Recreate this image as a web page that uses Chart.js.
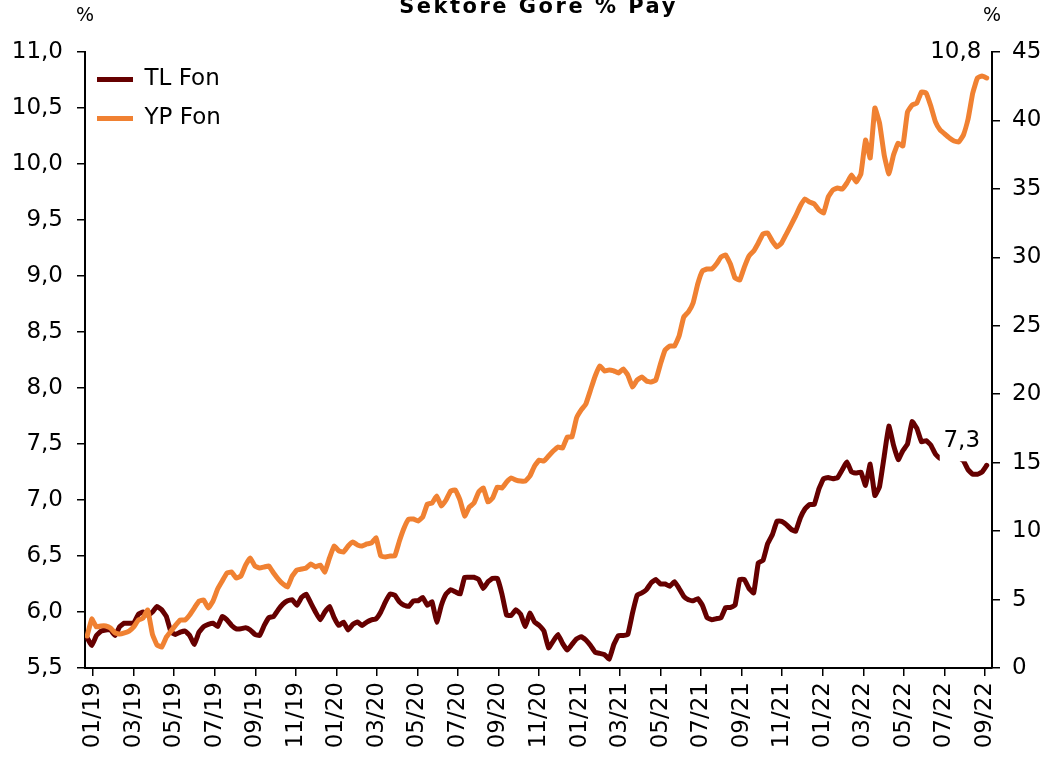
<!DOCTYPE html>
<html>
<head>
<meta charset="utf-8">
<script src="https://cdn.jsdelivr.net/npm/chart.js@4.4.1/dist/chart.umd.min.js"></script>
<style>
  html, body { margin: 0; padding: 0; background: #fff; }
</style>
</head>
<body>
<canvas id="myChart" width="1048" height="762"></canvas>
<script>
// Sektore gore % pay - TL / YP fon, weekly
const firstWeek = "2018-12-23";

const tlFon = [
  5.77, 5.70, 5.79, 5.83, 5.84, 5.84, 5.79, 5.87, 5.90, 5.90,
  5.90, 5.98, 6.00, 5.97, 6.00, 6.05, 6.02, 5.96, 5.82, 5.80,
  5.82, 5.83, 5.79, 5.71, 5.82, 5.87, 5.89, 5.90, 5.87, 5.96,
  5.93, 5.88, 5.85, 5.85, 5.86, 5.84, 5.80, 5.79, 5.88, 5.95,
  5.96, 6.02, 6.07, 6.10, 6.11, 6.06, 6.13, 6.16, 6.08, 6.00,
  5.93, 6.00, 6.05, 5.95, 5.88, 5.91, 5.84, 5.89, 5.91, 5.88,
  5.91, 5.93, 5.94, 6.00, 6.09, 6.16, 6.15, 6.09, 6.06, 6.05,
  6.10, 6.10, 6.13, 6.06, 6.09, 5.91, 6.06, 6.16, 6.20, 6.18,
  6.16, 6.31, 6.31, 6.31, 6.29, 6.21, 6.27, 6.30, 6.30, 6.16,
  5.97, 5.97, 6.02, 5.98, 5.87, 5.99, 5.91, 5.88, 5.83, 5.68,
  5.74, 5.80, 5.72, 5.66, 5.71, 5.76, 5.78, 5.75, 5.70, 5.64,
  5.63, 5.62, 5.58, 5.71, 5.79, 5.79, 5.80, 5.99, 6.15, 6.17,
  6.20, 6.26, 6.29, 6.25, 6.25, 6.23, 6.27, 6.21, 6.14, 6.11,
  6.10, 6.12, 6.06, 5.95, 5.93, 5.94, 5.95, 6.04, 6.04, 6.06,
  6.29, 6.29, 6.21, 6.17, 6.44, 6.46, 6.61, 6.69, 6.81, 6.81,
  6.78, 6.74, 6.72, 6.84, 6.92, 6.96, 6.96, 7.10, 7.19, 7.20,
  7.19, 7.20, 7.27, 7.34, 7.25, 7.24, 7.25, 7.13, 7.32, 7.04,
  7.12, 7.39, 7.66, 7.49, 7.36, 7.44, 7.50, 7.70, 7.64, 7.52,
  7.53, 7.49, 7.41, 7.37, 7.40, 7.43, 7.41, 7.38, 7.35, 7.27,
  7.23, 7.23, 7.25, 7.31
];

const ypFon = [
  2.34, 3.58, 3.00, 3.07, 3.07, 2.92, 2.56, 2.48, 2.56, 2.70,
  3.00, 3.51, 3.65, 4.24, 2.48, 1.68, 1.53, 2.26, 2.70, 3.14,
  3.51, 3.51, 3.87, 4.38, 4.89, 4.97, 4.38, 4.89, 5.77, 6.36,
  6.94, 7.01, 6.57, 6.72, 7.52, 8.04, 7.45, 7.31, 7.38, 7.45,
  6.94, 6.50, 6.14, 5.92, 6.72, 7.16, 7.23, 7.31, 7.60, 7.38,
  7.52, 7.01, 8.04, 8.91, 8.55, 8.47, 8.91, 9.20, 8.99, 8.91,
  9.06, 9.13, 9.50, 8.18, 8.11, 8.18, 8.18, 9.28, 10.23, 10.88,
  10.88, 10.74, 11.03, 11.98, 12.05, 12.56, 11.83, 12.27, 12.93, 13.00,
  12.27, 11.10, 11.76, 12.05, 12.86, 13.15, 12.13, 12.42, 13.22, 13.15,
  13.59, 13.88, 13.73, 13.66, 13.66, 14.03, 14.76, 15.19, 15.12, 15.49,
  15.85, 16.14, 16.07, 16.87, 16.87, 18.26, 18.85, 19.29, 20.31, 21.33,
  22.06, 21.70, 21.77, 21.70, 21.55, 21.84, 21.40, 20.53, 21.04, 21.26,
  20.97, 20.89, 21.04, 22.21, 23.23, 23.52, 23.52, 24.25, 25.64, 26.01,
  26.66, 28.05, 29.00, 29.15, 29.15, 29.51, 30.02, 30.17, 29.51, 28.49,
  28.34, 29.29, 30.10, 30.46, 31.05, 31.70, 31.78, 31.19, 30.75, 31.05,
  31.70, 32.36, 33.02, 33.75, 34.26, 34.04, 33.90, 33.46, 33.24, 34.41,
  34.92, 35.06, 34.99, 35.43, 36.01, 35.50, 36.09, 38.57, 37.26, 40.91,
  39.81, 37.48, 36.09, 37.48, 38.35, 38.13, 40.62, 41.13, 41.27, 42.08,
  42.00, 41.05, 39.89, 39.30, 39.01, 38.72, 38.50, 38.43, 38.94, 40.11,
  42.00, 43.10, 43.25, 43.10
];

const tickLabels = [
  "01/19", "03/19", "05/19", "07/19", "09/19", "11/19",
  "01/20", "03/20", "05/20", "07/20", "09/20", "11/20",
  "01/21", "03/21", "05/21", "07/21", "09/21", "11/21",
  "01/22", "03/22", "05/22", "07/22", "09/22"
];

const endLabels = { tl: "7,3", yp: "10,8" };
const chartTitle = "Sektöre Göre % Pay";

const colors = ["#660000", "#F08132"];

// x = months since 01/2019
const DAY = 86400000;
const startMs = Date.parse(firstWeek + "T00:00:00Z");
const baseMs = Date.UTC(2019, 0, 1);
function monthOf(i) {
  return (startMs + i * 7 * DAY - baseMs) / DAY / 30.4375;
}

Chart.defaults.font.family = "'DejaVu Sans', sans-serif";
Chart.defaults.font.size = 23;
Chart.defaults.color = "#000";

const extras = {
  id: "extras",
  afterLayout(chart) {
    // legend inside the plot, top-left corner
    const lg = chart.legend;
    const h = lg.bottom - lg.top;
    lg.top = chart.chartArea.top;
    lg.bottom = lg.top + h;
    lg.left = chart.chartArea.left - 4;
  },
  afterDatasetsDraw(chart) {
    const { ctx, chartArea, scales } = chart;
    ctx.save();
    ctx.fillStyle = "#000";

    // title (cut at the top like the source)
    ctx.font = "bold 21px 'DejaVu Sans'";
    ctx.letterSpacing = "2.5px";
    ctx.textAlign = "center";
    ctx.textBaseline = "alphabetic";
    ctx.fillText(chartTitle, (chartArea.left + chartArea.right) / 2, 13);
    ctx.letterSpacing = "0px";

    // % over both axes
    ctx.font = "19px 'DejaVu Sans'";
    ctx.textBaseline = "middle";
    ctx.fillText("%", chartArea.left, 16);
    ctx.fillText("%", chartArea.right, 16);

    // end labels
    const last = tlFon.length - 1;
    const xl = scales.x.getPixelForValue(monthOf(last));
    const yTl = scales.y.getPixelForValue(tlFon[last]);
    const yYp = scales.y1.getPixelForValue(ypFon[last]);
    ctx.font = "23px 'DejaVu Sans'";

    const cx = xl - 25, cy = yTl - 24;
    ctx.fillStyle = "#fff";
    ctx.fillRect(cx - 22, cy - 14, 44, 34);
    ctx.fillStyle = "#000";
    ctx.fillText(endLabels.tl, cx, cy);

    ctx.fillText(endLabels.yp, xl - 31, yYp - 26);
    ctx.restore();
  }
};

const area = document.querySelector("#myChart");

const myChart = new Chart(area, {
  type: "line",
  data: {
    datasets: [
      {
        label: "TL Fon",
        data: tlFon.map((v, i) => ({ x: monthOf(i), y: v })),
        yAxisID: "y",
        borderColor: colors[0],
        backgroundColor: colors[0],
        borderWidth: 5,
        borderJoinStyle: "round",
        borderCapStyle: "round",
        pointRadius: 0,
        tension: 0.1,
        order: 1,
      },
      {
        label: "YP Fon",
        data: ypFon.map((v, i) => ({ x: monthOf(i), y: v })),
        yAxisID: "y1",
        borderColor: colors[1],
        backgroundColor: colors[1],
        borderWidth: 5,
        borderJoinStyle: "round",
        borderCapStyle: "round",
        pointRadius: 0,
        tension: 0.1,
        order: 0,
      },
    ],
  },
  options: {
    responsive: false,
    animation: false,
    devicePixelRatio: 1,
    layout: {
      padding: { top: 52, left: 0, right: 0, bottom: 0 },
    },
    plugins: {
      title: { display: false },
      tooltip: { enabled: false },
      legend: {
        position: "chartArea",
        align: "start",
        labels: {
          usePointStyle: true,
          pointStyle: "line",
          pointStyleWidth: 36,
          padding: 16,
          color: "#000",
          font: { size: 23 },
          sort: (a, b) => a.datasetIndex - b.datasetIndex,
        },
      },
    },
    scales: {
      x: {
        type: "linear",
        min: -0.4,
        max: 44.35,
        afterBuildTicks: (axis) => {
          axis.ticks = tickLabels.map((t, k) => ({ value: k * 2 }));
        },
        afterFit: (axis) => { axis.height = 94; },
        ticks: {
          autoSkip: false,
          minRotation: 90,
          maxRotation: 90,
          padding: 6,
          callback: (value, index) => tickLabels[index],
        },
        grid: { drawOnChartArea: false, tickLength: 8, color: "#000", lineWidth: 1.5 },
        border: { color: "#000", width: 2 },
      },
      y: {
        position: "left",
        min: 5.5,
        max: 11,
        afterFit: (axis) => { axis.width = 85; },
        ticks: {
          stepSize: 0.5,
          padding: 14,
          callback: (v) => v.toFixed(1).replace(".", ","),
        },
        grid: { drawOnChartArea: false, tickLength: 8, color: "#000", lineWidth: 1.5 },
        border: { color: "#000", width: 2 },
      },
      y1: {
        position: "right",
        min: 0,
        max: 45,
        afterFit: (axis) => { axis.width = 56; },
        ticks: {
          stepSize: 5,
          padding: 12,
        },
        grid: { drawOnChartArea: false, tickLength: 8, color: "#000", lineWidth: 1.5 },
        border: { color: "#000", width: 2 },
      },
    },
  },
  plugins: [extras],
});
</script>
</body>
</html>
